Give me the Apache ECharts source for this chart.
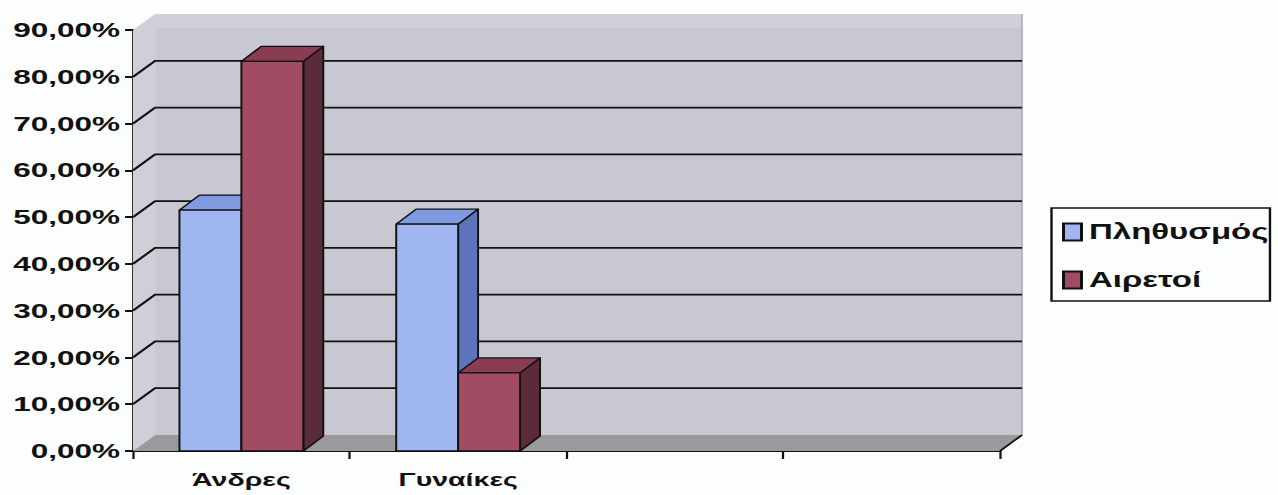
<!DOCTYPE html>
<html><head><meta charset="utf-8">
<script src="https://cdn.jsdelivr.net/npm/echarts@6/dist/echarts.min.js"></script>
<style>
html,body{margin:0;padding:0;background:#fcfdfd;overflow:hidden;width:1278px;height:495px;}
#c{width:852px;height:495px;transform:scaleX(1.5);transform-origin:0 0;}
</style></head><body><div id="c"></div>
<script>
// ---- data ----
const categories = ['Άνδρες', 'Γυναίκες', '', ''];
const seriesNames = ['Πληθυσμός', 'Αιρετοί'];
const population = [51.5, 48.5];
const elected = [83.3, 16.7];
const yMin = 0, yMax = 90, yStep = 10;
const wallLineValues = [10, 20, 30, 40, 50, 60, 70, 80];

// ---- styles ----
const DX = 14.7, DY = -16;      // wall depth
const BDX = 13.3, BDY = -15;    // bar depth
const WALL = '#c7c8d1', LEFTWALL = '#cfd0d7', FLOOR = '#9a9a9d', BAND = '#d0d1d8';
const INK = '#111';
const blue = {front: '#9fb6f0', top: '#7f9ae0', side: '#5b74ba'};
const red = {front: '#a24c64', top: '#8a3c54', side: '#5c2b39'};

function renderWalls(params, api) {
  const cs = params.coordSys;
  const x0 = cs.x, x1 = cs.x + cs.width;
  const yb = api.coord([0, yMin])[1];
  const yt = api.coord([0, yMax])[1];
  return {type: 'group', children: [
    {type: 'rect', shape: {x: x0 + DX, y: yt + DY, width: cs.width, height: yb - yt}, style: {fill: WALL}},
    {type: 'rect', shape: {x: x0 + DX, y: yt + DY, width: cs.width, height: 14}, style: {fill: BAND}},
    {type: 'polygon', shape: {points: [[x0, yt], [x0 + DX, yt + DY], [x0 + DX, yb + DY], [x0, yb]]}, style: {fill: LEFTWALL}},
    {type: 'polygon', shape: {points: [[x0, yb], [x1, yb], [x1 + DX, yb + DY], [x0 + DX, yb + DY]]}, style: {fill: FLOOR}},
    {type: 'line', shape: {x1: x1 + DX, y1: yt + DY, x2: x1 + DX, y2: yb + DY}, style: {stroke: '#a9aab2', lineWidth: 1}},
    {type: 'line', shape: {x1: x1, y1: yb, x2: x1 + DX, y2: yb + DY}, style: {stroke: INK, lineWidth: 1.6}}
  ]};
}

function renderGridLine(params, api) {
  const cs = params.coordSys;
  const y = api.coord([0, api.value(1)])[1];
  return {type: 'polyline', shape: {points: [[cs.x, y], [cs.x + DX, y + DY], [cs.x + cs.width + DX, y + DY]]},
    style: {stroke: INK, lineWidth: 1.8, fill: null}};
}

function makeBar(k, col) {
  return function (params, api) {
    const ci = api.value(0), v = api.value(1);
    const band = api.size([1, 0])[0];
    const w = band / 3.5;
    const base = api.coord([ci, 0]);
    const top = api.coord([ci, v]);
    const x0 = base[0] - w + k * w, x1 = x0 + w;
    const yb = base[1], yt = top[1];
    const st = {stroke: INK, lineWidth: 1.3, lineJoin: 'round'};
    return {type: 'group', children: [
      {type: 'polygon', shape: {points: [[x1, yt], [x1 + BDX, yt + BDY], [x1 + BDX, yb + BDY], [x1, yb]]}, style: Object.assign({fill: col.side}, st)},
      {type: 'polygon', shape: {points: [[x0, yt], [x1, yt], [x1 + BDX, yt + BDY], [x0 + BDX, yt + BDY]]}, style: Object.assign({fill: col.top}, st)},
      {type: 'rect', shape: {x: x0, y: yt, width: w, height: yb - yt}, style: Object.assign({fill: col.front}, st)}
    ]};
  };
}

const popData = population.map((v, i) => [i, v]);
const eleData = elected.map((v, i) => [i, v]);

const chart = echarts.init(document.getElementById('c'), null, {renderer: 'svg'});
chart.setOption({
  animation: false,
  backgroundColor: '#fcfdfd',
  grid: {left: 88.67, right: 185.33, top: 30, bottom: 44},
  legend: {
    orient: 'vertical', left: 701, top: 208, data: seriesNames,
    icon: 'rect', itemWidth: 12, itemHeight: 17, itemGap: 22,
    padding: [11, 1, 8, 7], borderColor: INK, borderWidth: 1.6, backgroundColor: '#fcfdfd',
    textStyle: {fontFamily: 'Liberation Sans', fontWeight: 'bold', fontSize: 22, color: INK, lineHeight: 26},
    itemStyle: {borderColor: INK, borderWidth: 2}
  },
  xAxis: {
    type: 'category', data: categories, boundaryGap: true,
    axisLine: {show: true, lineStyle: {color: INK, width: 2}},
    axisTick: {show: true, length: 8, lineStyle: {color: INK, width: 1.5}},
    axisLabel: {margin: 19, fontFamily: 'Liberation Sans', fontWeight: 'bold', fontSize: 19, color: INK},
    splitLine: {show: false}
  },
  yAxis: {
    type: 'value', min: yMin, max: yMax, interval: yStep,
    axisLine: {show: true, lineStyle: {color: INK, width: 1.8}},
    axisTick: {show: true, inside: false, length: 5.3, lineStyle: {color: INK, width: 2}},
    axisLabel: {margin: 8.7, fontFamily: 'Liberation Sans', fontWeight: 'bold', fontSize: 21, color: INK,
      formatter: v => v.toFixed(2).replace('.', ',') + '%'},
    splitLine: {show: false}
  },
  series: [
    {type: 'custom', name: 'walls', renderItem: renderWalls, data: [[0, 0]], silent: true, z: 1},
    {type: 'custom', name: 'gridlines', renderItem: renderGridLine, data: wallLineValues.map(v => [0, v]), silent: true, z: 2},
    {type: 'custom', name: seriesNames[0], renderItem: makeBar(0, blue), data: popData, itemStyle: {color: blue.front}, z: 3},
    {type: 'custom', name: seriesNames[1], renderItem: makeBar(1, red), data: eleData, itemStyle: {color: red.front}, z: 4}
  ]
});
</script></body></html>
